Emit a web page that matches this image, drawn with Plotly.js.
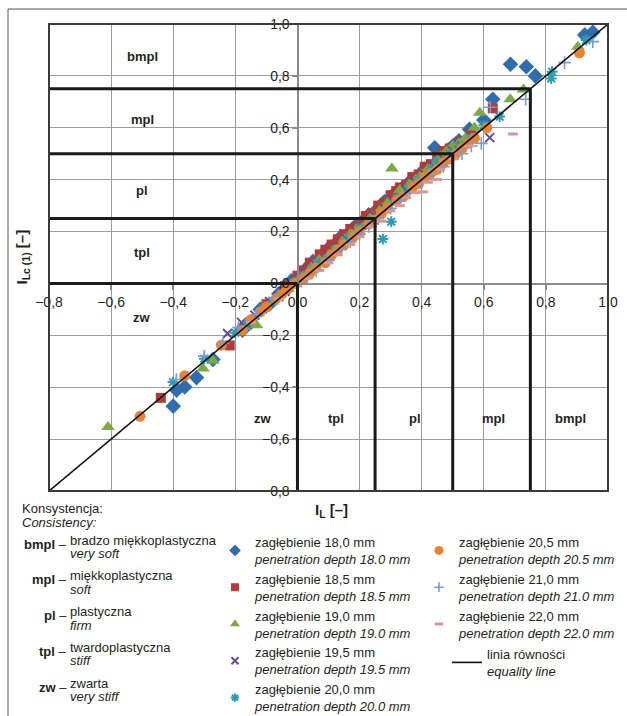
<!DOCTYPE html>
<html>
<head>
<meta charset="utf-8">
<script src="https://cdn.plot.ly/plotly-3.0.1.min.js"></script>
<style>
  html, body { margin: 0; padding: 0; background: #fff; }
  #chart { width: 627px; height: 716px; }
</style>
</head>
<body>
<div id="chart"></div>
<script>
// ---------- DATA ----------
const seriesNamesPl = ['zagłębienie 18,0 mm','zagłębienie 18,5 mm','zagłębienie 19,0 mm','zagłębienie 19,5 mm','zagłębienie 20,0 mm','zagłębienie 20,5 mm','zagłębienie 21,0 mm','zagłębienie 22,0 mm'];
const seriesNamesEn = ['penetration depth 18.0 mm','penetration depth 18.5 mm','penetration depth 19.0 mm','penetration depth 19.5 mm','penetration depth 20.0 mm','penetration depth 20.5 mm','penetration depth 21.0 mm','penetration depth 22.0 mm'];

const x180 = [-0.40, -0.389, -0.363, -0.325, -0.272, -0.177, -0.15, -0.12, -0.09, -0.06, -0.02, 0.03, 0.05, 0.08, 0.10, 0.12, 0.14, 0.17, 0.19, 0.21, 0.23, 0.26, 0.28, 0.30, 0.32, 0.34, 0.361, 0.37, 0.399, 0.41, 0.442, 0.46, 0.485, 0.50, 0.52, 0.554, 0.60, 0.629, 0.686, 0.737, 0.766, 0.925, 0.951];
const y180 = [-0.473, -0.411, -0.399, -0.363, -0.293, -0.18, -0.15, -0.10, -0.08, -0.04, 0.01, 0.06, 0.085, 0.11, 0.135, 0.15, 0.18, 0.20, 0.225, 0.24, 0.265, 0.29, 0.315, 0.33, 0.355, 0.37, 0.392, 0.40, 0.427, 0.44, 0.523, 0.49, 0.514, 0.53, 0.55, 0.594, 0.63, 0.71, 0.845, 0.835, 0.80, 0.958, 0.968];

const x185 = [-0.44, -0.218, -0.10, -0.04, 0.0, 0.02, 0.04, 0.072, 0.09, 0.11, 0.13, 0.15, 0.17, 0.19, 0.206, 0.22, 0.24, 0.26, 0.28, 0.30, 0.318, 0.33, 0.35, 0.37, 0.39, 0.41, 0.43, 0.45, 0.47, 0.49, 0.522, 0.56, 0.629];
const y185 = [-0.441, -0.239, -0.08, -0.01, 0.03, 0.05, 0.08, 0.112, 0.13, 0.15, 0.17, 0.19, 0.21, 0.218, 0.225, 0.26, 0.27, 0.30, 0.31, 0.34, 0.356, 0.37, 0.38, 0.41, 0.42, 0.45, 0.46, 0.49, 0.51, 0.52, 0.546, 0.58, 0.675];

const x190 = [-0.61, -0.304, -0.272, -0.132, -0.08, -0.03, 0.0, 0.02, 0.05, 0.07, 0.10, 0.12, 0.15, 0.17, 0.19, 0.22, 0.24, 0.27, 0.29, 0.304, 0.33, 0.36, 0.38, 0.40, 0.42, 0.44, 0.46, 0.48, 0.50, 0.52, 0.54, 0.57, 0.587, 0.685, 0.728, 0.903];
const y190 = [-0.553, -0.328, -0.298, -0.161, -0.07, -0.02, 0.01, 0.03, 0.07, 0.09, 0.11, 0.13, 0.17, 0.19, 0.21, 0.23, 0.26, 0.29, 0.31, 0.443, 0.36, 0.38, 0.40, 0.42, 0.44, 0.46, 0.49, 0.51, 0.53, 0.54, 0.56, 0.60, 0.658, 0.71, 0.748, 0.912];

const x195 = [-0.225, -0.18, -0.137, -0.09, -0.06, -0.04, 0.01, 0.03, 0.06, 0.10, 0.13, 0.16, 0.19, 0.22, 0.25, 0.28, 0.31, 0.35, 0.38, 0.41, 0.44, 0.47, 0.50, 0.53, 0.57, 0.619];
const y195 = [-0.193, -0.15, -0.122, -0.07, -0.05, -0.03, 0.02, 0.04, 0.07, 0.11, 0.14, 0.17, 0.20, 0.23, 0.26, 0.29, 0.32, 0.36, 0.39, 0.42, 0.45, 0.48, 0.51, 0.53, 0.57, 0.562];

const x200 = [-0.401, -0.30, -0.20, -0.16, -0.11, -0.08, -0.05, 0.0, 0.02, 0.05, 0.07, 0.10, 0.12, 0.15, 0.17, 0.20, 0.23, 0.275, 0.302, 0.32, 0.36, 0.39, 0.43, 0.45, 0.49, 0.52, 0.56, 0.60, 0.651, 0.817, 0.82, 0.93];
const y200 = [-0.38, -0.29, -0.19, -0.15, -0.10, -0.07, -0.04, 0.01, 0.03, 0.06, 0.08, 0.10, 0.13, 0.16, 0.18, 0.21, 0.24, 0.171, 0.238, 0.33, 0.37, 0.40, 0.44, 0.47, 0.50, 0.53, 0.56, 0.61, 0.643, 0.79, 0.816, 0.938];

const x205 = [-0.507, -0.363, -0.245, -0.177, -0.15, -0.12, -0.10, -0.07, -0.05, -0.03, -0.01, 0.02, 0.04, 0.06, 0.09, 0.11, 0.13, 0.15, 0.18, 0.20, 0.23, 0.25, 0.27, 0.29, 0.32, 0.34, 0.37, 0.39, 0.41, 0.43, 0.45, 0.47, 0.49, 0.51, 0.53, 0.55, 0.57, 0.61, 0.908];
const y205 = [-0.512, -0.356, -0.238, -0.18, -0.14, -0.11, -0.09, -0.06, -0.04, -0.02, 0.00, 0.02, 0.04, 0.06, 0.08, 0.11, 0.13, 0.15, 0.18, 0.20, 0.23, 0.245, 0.27, 0.29, 0.32, 0.335, 0.37, 0.385, 0.41, 0.425, 0.44, 0.465, 0.48, 0.50, 0.52, 0.54, 0.56, 0.60, 0.889];

const x210 = [-0.39, -0.30, -0.24, -0.19, -0.13, -0.07, 0.0, 0.03, 0.06, 0.10, 0.14, 0.17, 0.20, 0.23, 0.26, 0.30, 0.33, 0.36, 0.40, 0.43, 0.47, 0.50, 0.53, 0.56, 0.592, 0.621, 0.735, 0.86, 0.951];
const y210 = [-0.37, -0.28, -0.23, -0.17, -0.12, -0.06, 0.0, 0.02, 0.05, 0.09, 0.13, 0.16, 0.19, 0.22, 0.25, 0.29, 0.32, 0.35, 0.39, 0.42, 0.45, 0.48, 0.50, 0.53, 0.54, 0.679, 0.71, 0.851, 0.932];

const x220 = [-0.15, -0.06, 0.0, 0.03, 0.07, 0.10, 0.13, 0.17, 0.20, 0.24, 0.27, 0.30, 0.33, 0.35, 0.38, 0.404, 0.42, 0.449, 0.46, 0.50, 0.55, 0.694];
const y220 = [-0.15, -0.06, -0.01, 0.02, 0.05, 0.08, 0.11, 0.15, 0.18, 0.22, 0.24, 0.28, 0.30, 0.33, 0.35, 0.353, 0.39, 0.401, 0.44, 0.48, 0.53, 0.576];

const equalityX = [-0.8, 1.0];
const equalityY = [-0.8, 1.0];
const equalityNamePl = 'linia równości';
const equalityNameEn = 'equality line';

// consistency classes
const consistencyLimits = [0, 0.25, 0.5, 0.75];
const consistencyCodes = ['zw', 'tpl', 'pl', 'mpl', 'bmpl'];
const consistencyLabelY = [-0.13, 0.12, 0.36, 0.63, 0.875];   // left column labels (y)
const consistencyLabelX = [-0.11, 0.125, 0.38, 0.63, 0.88];   // bottom row labels (x)
const consistencyPl = ['zwarta', 'twardoplastyczna', 'plastyczna', 'miękkoplastyczna', 'bradzo miękkoplastyczna'];
const consistencyEn = ['very stiff', 'stiff', 'firm', 'soft', 'very soft'];

const axisRange = [-0.8, 1.0];
const tickStep = 0.2;

// ---------- STYLE ----------
const FONT = '"Liberation Sans", Arial, Helvetica, sans-serif';
const TXT = '#231f20';
const W = 627, H = 716;
const M = {l: 49, r: 19, t: 24, b: 225, autoexpand: false};
const PW = W - M.l - M.r, PH = H - M.t - M.b;
const px = v => (v - M.l) / PW;          // pixel -> paper x
const py = v => (H - M.b - v) / PH;      // pixel -> paper y

const styles = [
  {symbol: 'diamond', color: '#2f6db0', size: 12, lsize: 9, line: {width: 0}},
  {symbol: 'square', color: '#b43a3a', size: 10, lsize: 8, line: {width: 0}},
  {symbol: 'triangle-up', color: '#7aab45', size: 12, lsize: 9, line: {width: 0}},
  {symbol: 'x-thin-open', color: '#5e4c9a', size: 9, lsize: 7, line: {width: 2, color: '#5e4c9a'}},
  {symbol: 'asterisk-open', color: '#2b9db3', size: 9, lsize: 7, line: {width: 2, color: '#2b9db3'}},
  {symbol: 'circle', color: '#e8832f', size: 11, lsize: 9, line: {width: 0}},
  {symbol: 'cross-thin-open', color: '#7c9bd6', size: 9, lsize: 7, line: {width: 1.6, color: '#7c9bd6'}},
  {symbol: 'line-ew-open', color: '#db9595', size: 7, lsize: 6, line: {width: 3, color: '#db9595'}}
];
const xs = [x180, x185, x190, x195, x200, x205, x210, x220];
const ys = [y180, y185, y190, y195, y200, y205, y210, y220];

const traces = xs.map((xv, i) => ({
  type: 'scatter', mode: 'markers',
  x: xv, y: ys[i],
  name: seriesNamesPl[i],
  showlegend: false,
  marker: {symbol: styles[i].symbol, color: styles[i].color, size: styles[i].size, line: styles[i].line},
  hoverinfo: 'x+y'
}));
traces.push({
  type: 'scatter', mode: 'lines',
  x: equalityX, y: equalityY,
  name: equalityNamePl + '<br><i>' + equalityNameEn + '</i>',
  legend: 'legend3',
  line: {color: '#111', width: 1.6}
});
// legend entries (smaller legend symbols, no data of their own)
xs.forEach((xv, i) => {
  traces.push({
    type: 'scatter', mode: 'markers',
    x: [null], y: [null],
    name: seriesNamesPl[i] + '<br><i>' + seriesNamesEn[i] + '</i>',
    legend: i < 5 ? 'legend' : 'legend2',
    showlegend: true,
    marker: {symbol: styles[i].symbol, color: styles[i].color, size: styles[i].lsize, line: styles[i].line}
  });
});

// ---------- SHAPES ----------
const shapes = [];
consistencyLimits.forEach(L => {
  shapes.push({type: 'line', xref: 'x', yref: 'y', x0: axisRange[0], x1: L, y0: L, y1: L, line: {color: '#1a1a1a', width: 3}});
  shapes.push({type: 'line', xref: 'x', yref: 'y', x0: L, x1: L, y0: axisRange[0], y1: L, line: {color: '#1a1a1a', width: 3}});
});
// plot frame
shapes.push({type: 'rect', xref: 'paper', yref: 'paper', x0: 0, x1: 1, y0: 0, y1: 1, line: {color: '#3a3a3a', width: 2}});
// outer figure frame (top & left)
shapes.push({type: 'line', xref: 'paper', yref: 'paper', x0: px(8), x1: px(627), y0: py(9), y1: py(9), line: {color: '#555', width: 1}});
shapes.push({type: 'line', xref: 'paper', yref: 'paper', x0: px(8), x1: px(8), y0: py(9), y1: py(716), line: {color: '#555', width: 1}});

// ---------- ANNOTATIONS ----------
const annotations = [];
consistencyCodes.forEach((c, i) => {
  annotations.push({xref: 'x', yref: 'y', x: -0.5, y: consistencyLabelY[i], text: '<b>' + c + '</b>', showarrow: false, font: {family: FONT, size: 13, color: TXT}});
  annotations.push({xref: 'x', yref: 'y', x: consistencyLabelX[i], y: -0.52, text: '<b>' + c + '</b>', showarrow: false, font: {family: FONT, size: 13, color: TXT}});
});
// axis titles
annotations.push({xref: 'paper', yref: 'paper', x: px(331), y: py(510), xanchor: 'center', yanchor: 'middle', text: '<b>I<sub>L</sub> [–]</b>', showarrow: false, font: {family: FONT, size: 15, color: TXT}});
annotations.push({xref: 'paper', yref: 'paper', x: px(22), y: 0.5, xanchor: 'center', yanchor: 'middle', text: '<b>I<sub>Lc (1)</sub> [–]</b>', textangle: -90, showarrow: false, font: {family: FONT, size: 15, color: TXT}});
// consistency legend (left column)
annotations.push({xref: 'paper', yref: 'paper', x: px(21), y: py(508.5), xanchor: 'left', yanchor: 'middle', text: 'Konsystencja:', showarrow: false, borderpad: 0, font: {family: FONT, size: 13, color: TXT}});
annotations.push({xref: 'paper', yref: 'paper', x: px(21), y: py(522.5), xanchor: 'left', yanchor: 'middle', text: '<i>Consistency:</i>', showarrow: false, borderpad: 0, font: {family: FONT, size: 13, color: TXT}});
for (let k = 0; k < 5; k++) {
  const i = 4 - k;  // bmpl first
  const y1 = 540 + k * 35.8;
  annotations.push({xref: 'paper', yref: 'paper', x: px(68), y: py(y1 + 4), xanchor: 'right', yanchor: 'middle', text: '<b>' + consistencyCodes[i] + '</b> –', showarrow: false, borderpad: 0, font: {family: FONT, size: 13, color: TXT}});
  annotations.push({xref: 'paper', yref: 'paper', x: px(69), y: py(y1), xanchor: 'left', yanchor: 'middle', text: consistencyPl[i], showarrow: false, borderpad: 0, font: {family: FONT, size: 13, color: TXT}});
  annotations.push({xref: 'paper', yref: 'paper', x: px(69), y: py(y1 + 13.5), xanchor: 'left', yanchor: 'middle', text: '<i>' + consistencyEn[i] + '</i>', showarrow: false, borderpad: 0, font: {family: FONT, size: 13, color: TXT}});
}

const axisCommon = {
  range: axisRange, dtick: tickStep, tick0: 0, tickformat: '.1f',
  showgrid: true, gridcolor: '#9c9c9c', gridwidth: 1.2,
  zeroline: false, showline: true, linecolor: '#8a8a8a', linewidth: 1.5,
  ticks: 'outside', ticklen: 5, tickwidth: 1.5, tickcolor: '#8a8a8a',
  tickfont: {family: FONT, size: 14, color: TXT},
  anchor: 'free', position: 0.8 / 1.8, fixedrange: true
};

const legendCommon = {
  bgcolor: 'rgba(0,0,0,0)', borderwidth: 0,
  font: {family: FONT, size: 13, color: TXT},
  xanchor: 'left', yanchor: 'top', orientation: 'v', tracegroupgap: 0
};

const layout = {
  width: W, height: H,
  margin: M,
  paper_bgcolor: '#fff', plot_bgcolor: '#fff',
  separators: ',.',
  font: {family: FONT, color: TXT},
  xaxis: Object.assign({}, axisCommon),
  yaxis: Object.assign({}, axisCommon),
  showlegend: true,
  legend: Object.assign({}, legendCommon, {x: px(215), y: py(527)}),
  legend2: Object.assign({}, legendCommon, {x: px(419), y: py(527)}),
  legend3: Object.assign({}, legendCommon, {x: px(447), y: py(639)}),
  shapes: shapes,
  annotations: annotations
};

Plotly.newPlot('chart', traces, layout, {displayModeBar: false, staticPlot: true});
</script>
</body>
</html>
